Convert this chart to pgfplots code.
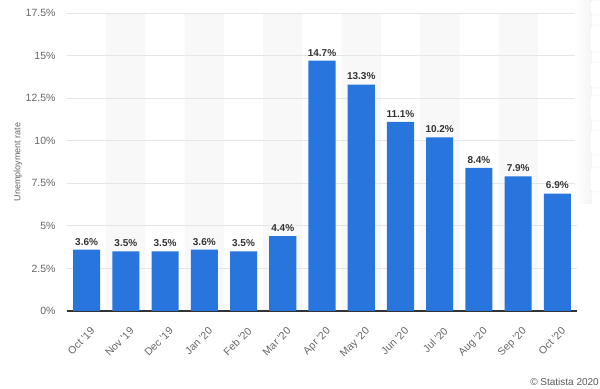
\documentclass[border=0pt]{standalone}
\usepackage{fontspec}
\setmainfont{Liberation Sans}
\usepackage{pgfplots}
\pgfplotsset{compat=1.18}
\definecolor{barblue}{HTML}{2876DD}
\definecolor{gridgray}{HTML}{E6E6E6}
\definecolor{stripe}{HTML}{F8F8F8}
\definecolor{ticktext}{HTML}{666666}
\definecolor{labeltext}{HTML}{333333}
\begin{document}
\begin{tikzpicture}
\path (0,0) rectangle (600bp,389bp);
\begin{scope}
\clip (0,0) rectangle (600bp,389bp);
\shade[left color=white, right color=black!4] (575bp,185bp) rectangle (592bp,389bp);
\foreach \ya/\yb in {389/374, 364/337, 327/301, 294/268, 259/234, 222/197}{
  \draw[black!10, fill=white, rounded corners=3bp] (590bp,\yb bp) rectangle (610bp,\ya bp);
}
\end{scope}
\begin{axis}[
  set layers,
  at={(67bp,78bp)}, anchor=south west,
  scale only axis, width=510bp, height=298bp,
  xmin=-0.5, xmax=12.5, ymin=0, ymax=17.5,
  ytick={0,2.5,5,7.5,10,12.5,15,17.5},
  yticklabel={\pgfmathprintnumber{\tick}\%},
  xtick={0,...,12},
  xticklabels={Oct \textquotesingle19, Nov \textquotesingle19, Dec \textquotesingle19, Jan \textquotesingle20, Feb \textquotesingle20, Mar \textquotesingle20, Apr \textquotesingle20, May \textquotesingle20, Jun \textquotesingle20, Jul \textquotesingle20, Aug \textquotesingle20, Sep \textquotesingle20, Oct \textquotesingle20},
  /pgf/number format/assume math mode=true,
  axis x line*=bottom, axis y line*=left,
  y axis line style={draw=none},
  x axis line style={draw=labeltext, line width=1.2bp},
  major tick length=0pt,
  ymajorgrids, grid style={draw=gridgray, line width=0.8bp},
  yticklabel style={font=\fontsize{10.5bp}{12bp}\selectfont, text=ticktext, xshift=-8bp},
  xticklabel style={font=\fontsize{10.5bp}{12bp}\selectfont, text=ticktext, rotate=45, anchor=north east, xshift=-5bp, yshift=-10bp},
  ylabel={Unemployment rate},
  ylabel style={font=\fontsize{9bp}{10bp}\selectfont, text=ticktext, at={(axis description cs:-0.096,0.5)}, anchor=center},
  clip=false,
]
\addplot[ybar, bar shift=0pt, bar width=1, draw=none, fill=stripe, on layer=axis background] coordinates {
  (1,17.5) (3,17.5) (5,17.5) (7,17.5) (9,17.5) (11,17.5)
};
\addplot[ybar, bar shift=0pt, bar width=0.69, draw=none, fill=barblue,
  nodes near coords={\pgfmathprintnumber[fixed,precision=1,fixed zerofill]{\pgfplotspointmeta}\%},
  nodes near coords style={font=\bfseries\fontsize{10bp}{11bp}\selectfont, text=labeltext, anchor=south, yshift=1bp}] coordinates {
  (0,3.6) (1,3.5) (2,3.5) (3,3.6) (4,3.5) (5,4.4) (6,14.7)
  (7,13.3) (8,11.1) (9,10.2) (10,8.4) (11,7.9) (12,6.9)
};
\end{axis}
\node[anchor=east, inner sep=0pt, text=black!65, font=\fontsize{10bp}{12bp}\selectfont] at (599bp,7bp) {© Statista 2020};
\end{tikzpicture}
\end{document}
